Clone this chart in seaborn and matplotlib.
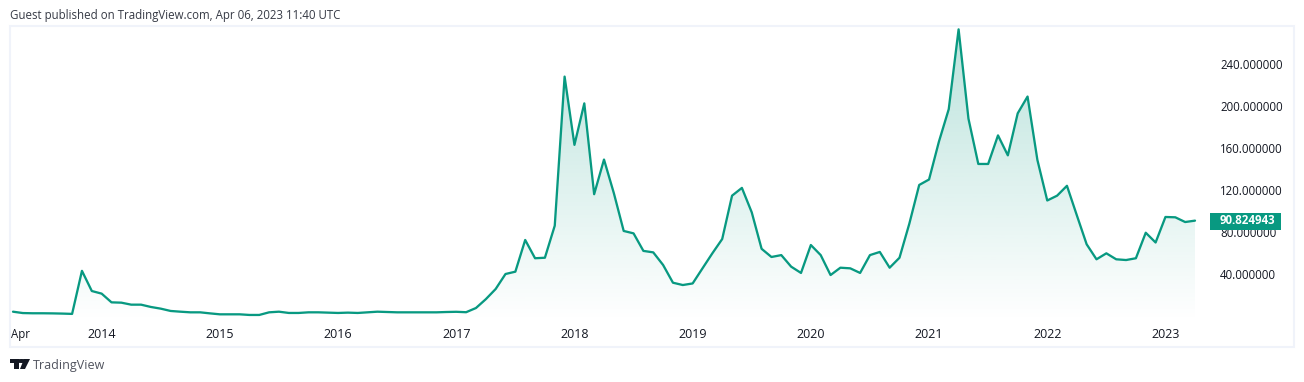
import numpy as np
import pandas as pd
import seaborn as sns
from matplotlib import pyplot as plt
from matplotlib.patches import Rectangle, Polygon
from matplotlib.transforms import ScaledTranslation

# monthly closes from Apr 2013 to Apr 2023
values = [4.1, 2.8, 2.6, 2.6, 2.5, 2.3, 2.0, 43.0, 23.8, 21.3,
          13.0, 12.7, 10.8, 10.8, 8.6, 7.0, 4.8, 4.1, 3.5, 3.5,
          2.5, 1.6, 1.6, 1.6, 1.0, 1.0, 3.5, 4.1, 2.9, 2.9,
          3.5, 3.5, 3.2, 2.9, 3.2, 2.9, 3.5, 4.1, 3.8, 3.5,
          3.5, 3.5, 3.5, 3.5, 3.8, 4.0, 3.6, 7.6, 16.0, 25.7,
          40.0, 42.2, 72.4, 55.0, 55.5, 86.0, 228.0, 163.0, 202.5, 116.0,
          149.0, 117.0, 81.0, 78.7, 62.0, 60.6, 48.6, 31.7, 29.5, 31.0,
          45.4, 59.7, 73.3, 114.6, 122.0, 98.7, 64.0, 56.2, 58.0, 47.0,
          41.0, 67.6, 58.0, 39.0, 46.0, 45.4, 41.0, 58.0, 61.0, 46.0,
          55.5, 88.0, 124.8, 130.0, 166.0, 197.0, 273.0, 188.0, 144.8, 144.8,
          172.0, 153.0, 193.0, 209.0, 148.6, 110.0, 114.6, 124.0, 96.0, 68.3,
          54.0, 59.7, 54.0, 53.3, 55.0, 79.3, 70.0, 94.3, 94.0, 89.5,
          90.824943]
x_ticks = [0, 9, 21, 33, 45, 57, 69, 81, 93, 105, 117]
x_labels = ['Apr', '2014', '2015', '2016', '2017', '2018', '2019', '2020', '2021', '2022', '2023']
y_ticks = [40, 80, 120, 160, 200, 240]
last_label = '90.824943'

W, H = 1304, 382
GREEN = '#089981'
FONT = ['Open Sans', 'DejaVu Sans']


def fx(px):
    return px / W


def fy(px):
    return 1 - px / H


def to_x(px):
    return (px - 13) / 9.85


def to_y(px):
    return (316 - px) / 1.05


df = pd.DataFrame({'month': np.arange(len(values)), 'price': values})

sns.set_style('white')
plt.rcParams['font.family'] = FONT
fig = plt.figure(figsize=(W / 100, H / 100), dpi=100)
ax = fig.add_axes([fx(11), fy(322), fx(1204 - 11), (322 - 27) / H])

# filled area with a vertical fade, clipped to the area under the line
area = ax.fill_between(df['month'], df['price'], to_y(322), color='none')
fade = np.zeros((256, 1, 4))
fade[..., :3] = (8 / 255, 153 / 255, 129 / 255)
fade[..., 3] = np.linspace(0.28, 0.0, 256)[:, None]
img = ax.imshow(fade, aspect='auto', extent=[0, 120, to_y(322), to_y(27)], origin='upper', zorder=1)
img.set_clip_path(area.get_paths()[0], transform=ax.transData)

sns.lineplot(data=df, x='month', y='price', color=GREEN, linewidth=1.65, ax=ax, zorder=2)

ax.set_xlim(to_x(11), to_x(1204))
ax.set_ylim(to_y(322), to_y(27))
sns.despine(ax=ax, left=True, bottom=True, right=True, top=True)
ax.set_xlabel('')
ax.set_ylabel('')
ax.set_xticks(x_ticks)
ax.set_xticklabels(x_labels)
ax.set_yticks(y_ticks)
ax.set_yticklabels(['%.6f' % v for v in y_ticks])
ax.yaxis.tick_right()
ax.tick_params(axis='x', length=0, pad=4, labelsize=9, labelcolor='#131722')
ax.tick_params(axis='y', length=0, pad=11.5, labelsize=8.3, labelcolor='#131722')
apr = ax.get_xticklabels()[0]
apr.set_ha('left')
apr.set_fontsize(8.3)
apr.set_transform(apr.get_transform() + ScaledTranslation(-2 / 100, 0, fig.dpi_scale_trans))

# outer frame
fig.add_artist(Rectangle((fx(10), fy(347)), fx(1284), 321 / H, fill=False, ec='#f0f3fa', lw=1.5,
                         transform=fig.transFigure))

# last price tag
fig.add_artist(Rectangle((fx(1210), fy(230)), fx(71), 17 / H, fc=GREEN, ec='none',
                         transform=fig.transFigure, zorder=4))
fig.text(fx(1220), fy(221), last_label, color='white', fontsize=8.3, fontweight='bold', va='center', zorder=5)

# header and footer
fig.text(fx(10), fy(15), 'Guest published on TradingView.com, Apr 06, 2023 11:40 UTC',
         color='#363a45', fontsize=8.3, va='center')
fig.text(fx(33), fy(365), 'TradingView', color='#50535e', fontsize=9, va='center')

# logo
logo_parts = [[(10, 359), (19, 359), (19, 369), (14, 369), (14, 363), (10, 363)],
              [(24, 359), (30, 359), (25, 369), (20, 369)]]
for part in logo_parts:
    fig.add_artist(Polygon([(fx(a), fy(b)) for a, b in part], fc='#131722', ec='none',
                           transform=fig.transFigure))
fig.add_artist(plt.Circle((fx(21.5), fy(361)), 2 / H, fc='#131722', ec='none', transform=fig.transFigure))

fig.savefig('out.png', dpi=100)
